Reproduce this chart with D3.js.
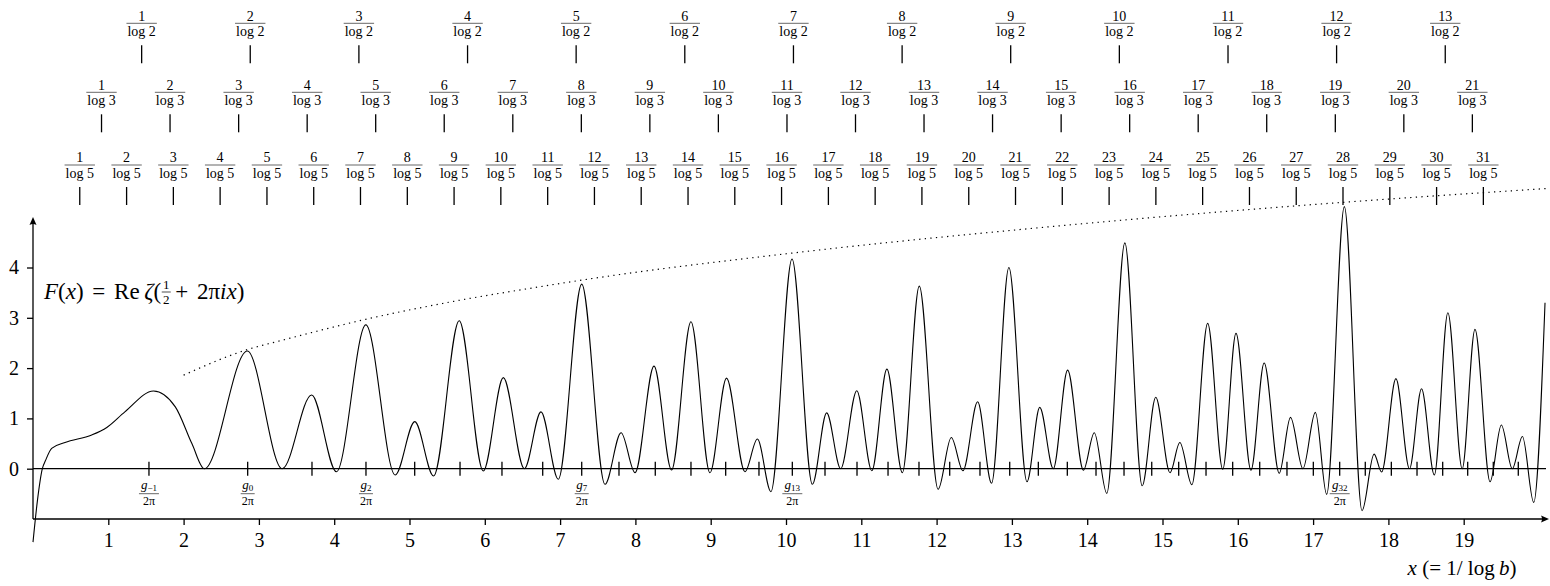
<!DOCTYPE html>
<html>
<head>
<meta charset="utf-8">
<script src="https://cdn.jsdelivr.net/npm/d3@7"></script>
<style>
  body { margin: 0; background: #fff; }
  svg { display: block; font-family: "Liberation Serif", "Times New Roman", serif; }
</style>
</head>
<body>
<div id="chart"></div>
<script>
// values
const fPoints = [
  [0.000, -1.46], [0.060, -0.62], [0.124, 0.00], [0.168, 0.17], [0.248, 0.405], [0.425, 0.52],
  [0.78, 0.67], [0.98, 0.82], [1.22, 1.13], [1.60, 1.545], [1.89, 1.23], [2.11, 0.50], [2.275, 0.00],
  [2.846, 2.34], [3.31, 0.00], [3.70, 1.465], [4.03, -0.06], [4.42, 2.86], [4.81, -0.125],
  [5.07, 0.935], [5.32, -0.145], [5.66, 2.94], [5.98, -0.046], [6.246, 1.81], [6.525, 0.00],
  [6.746, 1.13], [6.976, -0.21], [7.287, 3.67], [7.596, -0.31], [7.81, 0.716], [7.995, -0.08],
  [8.247, 2.04], [8.48, -0.026], [8.738, 2.92], [8.99, -0.08], [9.21, 1.80], [9.455, -0.06],
  [9.62, 0.59], [9.80, -0.457], [10.08, 4.17], [10.35, -0.31], [10.54, 1.11], [10.726, 0.00],
  [10.94, 1.55], [11.14, -0.04], [11.34, 1.98], [11.545, -0.08], [11.77, 3.63], [12.02, -0.41],
  [12.195, 0.62], [12.35, -0.04], [12.545, 1.33], [12.73, -0.29], [12.96, 4.00], [13.20, -0.26],
  [13.37, 1.22], [13.55, 0.00], [13.74, 1.96], [13.95, -0.03], [14.094, 0.716], [14.26, -0.49],
  [14.50, 4.49], [14.73, -0.34], [14.91, 1.42], [15.10, -0.08], [15.23, 0.52], [15.39, -0.32],
  [15.60, 2.89], [15.80, -0.01], [15.976, 2.69], [16.175, -0.03], [16.35, 2.10], [16.55, -0.09],
  [16.70, 1.02], [16.865, 0.00], [17.03, 1.12], [17.18, -0.51], [17.415, 5.21], [17.65, -0.835],
  [17.81, 0.29], [17.91, -0.066], [18.10, 1.79], [18.28, 0.00], [18.44, 1.59], [18.61, -0.125],
  [18.79, 3.10], [18.98, 0.00], [19.15, 2.77], [19.35, -0.26], [19.50, 0.87], [19.645, 0.00],
  [19.78, 0.64], [19.93, -0.67], [20.08, 3.30]
];

// dotted envelope
const boundPoints = [
  [2.0, 1.86], [2.85, 2.37], [3.3, 2.55], [4.42, 2.97], [5.67, 3.35], [6.7, 3.61], [7.29, 3.75],
  [10.1, 4.29], [13.5, 4.81], [16.9, 5.24], [20.1, 5.57]
];

// gram points g_{-1} ... g_39 divided by 2pi
const gramX = [
  1.540, 2.851, 3.705, 4.422, 5.069, 5.671, 6.228, 6.769, 7.287, 7.782, 8.264, 8.738, 9.199,
  9.641, 10.084, 10.518, 10.943, 11.355, 11.766, 12.174, 12.576, 12.971, 13.351, 13.736, 14.117,
  14.489, 14.857, 15.215, 15.578, 15.932, 16.291, 16.653, 17.003, 17.353, 17.693, 18.039, 18.380,
  18.721, 19.053, 19.393, 19.725
];
const gramLabelled = [-1, 0, 2, 7, 13, 32];

// k / log b positions
const log2Ticks = [1.443, 2.885, 4.328, 5.771, 7.213, 8.656, 10.099, 11.542, 12.984, 14.427, 15.870, 17.312, 18.755];
const log3Ticks = [0.910, 1.820, 2.731, 3.641, 4.551, 5.461, 6.372, 7.282, 8.192, 9.102, 10.013,
  10.923, 11.833, 12.743, 13.654, 14.564, 15.474, 16.384, 17.295, 18.205, 19.115];
const log5Ticks = [0.621, 1.243, 1.864, 2.485, 3.107, 3.728, 4.349, 4.971, 5.592, 6.213, 6.835,
  7.456, 8.077, 8.699, 9.320, 9.941, 10.563, 11.184, 11.805, 12.427, 13.048, 13.669, 14.291,
  14.912, 15.533, 16.155, 16.776, 17.397, 18.019, 18.640, 19.261];

const xTicks = d3.range(1, 20);
const yTicks = [0, 1, 2, 3, 4];

const w = 1550;
const h = 586;

const xScale = d3.scaleLinear().domain([0, 20]).range([33, 1539]);
const yScale = d3.scaleLinear().domain([-1, 5]).range([519, 217.2]);

const svg = d3.select("#chart")
  .append("svg")
  .attr("width", w)
  .attr("height", h);

// top rows of k/log b ticks
const rows = [
  { ticks: log2Ticks, base: "2", bar: 23.3 },
  { ticks: log3Ticks, base: "3", bar: 92.3 },
  { ticks: log5Ticks, base: "5", bar: 165 }
];

rows.forEach(row => {
  const cell = svg.append("g")
    .selectAll("g")
    .data(row.ticks)
    .enter()
    .append("g")
    .attr("transform", d => `translate(${xScale(d)},${row.bar})`);

  cell.append("text")
    .attr("y", -2.7)
    .attr("text-anchor", "middle")
    .style("font-size", "14px")
    .text((d, i) => i + 1);

  cell.append("text")
    .attr("y", 12.6)
    .attr("text-anchor", "middle")
    .style("font-size", "14px")
    .text("log " + row.base);

  cell.append("line")
    .attr("x1", function() { return -this.parentNode.querySelectorAll("text")[1].getComputedTextLength() / 2 - 1; })
    .attr("x2", function() { return this.parentNode.querySelectorAll("text")[1].getComputedTextLength() / 2 + 1; })
    .attr("stroke", "#000")
    .attr("stroke-width", 0.6);

  cell.append("line")
    .attr("y1", 22)
    .attr("y2", 40)
    .attr("stroke", "#000")
    .attr("stroke-width", 1.3);
});

// zero line with gram ticks
const y0 = yScale(0);
svg.append("line")
  .attr("x1", xScale(0))
  .attr("x2", 1546)
  .attr("y1", y0)
  .attr("y2", y0)
  .attr("stroke", "#000")
  .attr("stroke-width", 1.3);

svg.append("g")
  .selectAll("line")
  .data(gramX)
  .enter()
  .append("line")
  .attr("x1", d => xScale(d))
  .attr("x2", d => xScale(d))
  .attr("y1", y0 - 7)
  .attr("y2", y0 + 7)
  .attr("stroke", "#000")
  .attr("stroke-width", 1.3);

const gl = svg.append("g")
  .selectAll("g")
  .data(gramLabelled)
  .enter()
  .append("g")
  .attr("transform", d => `translate(${xScale(gramX[d + 1])},${y0 + 25})`);

const num = gl.append("text")
  .attr("y", -5)
  .attr("text-anchor", "middle")
  .style("font-size", "13px");
num.append("tspan").style("font-style", "italic").text("g");
num.append("tspan")
  .attr("dy", 2.5)
  .style("font-size", "9px")
  .text(d => d < 0 ? "\u2212" + (-d) : d);

gl.append("line")
  .attr("x1", d => d < 0 || d > 9 ? -10 : -7)
  .attr("x2", d => d < 0 || d > 9 ? 10 : 7)
  .attr("stroke", "#000")
  .attr("stroke-width", 0.6);

gl.append("text")
  .attr("y", 11)
  .attr("text-anchor", "middle")
  .style("font-size", "12px")
  .text("2\u03c0");

// dotted envelope
svg.append("path")
  .datum(boundPoints)
  .attr("fill", "none")
  .attr("stroke", "#000")
  .attr("stroke-width", 1.2)
  .attr("stroke-dasharray", "1.3,4.3")
  .attr("d", d3.line()
    .x(d => xScale(d[0]))
    .y(d => yScale(d[1]))
    .curve(d3.curveMonotoneX));

// F(x)
svg.append("path")
  .datum(fPoints)
  .attr("fill", "none")
  .attr("stroke", "#000")
  .attr("stroke-width", 1.1)
  .attr("d", d3.line()
    .x(d => xScale(d[0]))
    .y(d => yScale(d[1]))
    .curve(d3.curveMonotoneX));

// axes
const xAxis = d3.axisBottom(xScale)
  .tickValues(xTicks)
  .tickSize(6)
  .tickSizeOuter(0)
  .tickFormat(d3.format("d"));

const gx = svg.append("g")
  .attr("transform", "translate(0,519)")
  .call(xAxis);
gx.select(".domain").remove();
gx.attr("font-family", null).attr("font-size", 20);
gx.selectAll(".tick line").attr("stroke-width", 1.3);
gx.selectAll(".tick text").attr("y", 28).attr("dy", null);

const yAxis = d3.axisLeft(yScale)
  .tickValues(yTicks)
  .tickSize(6)
  .tickPadding(8)
  .tickSizeOuter(0)
  .tickFormat(d3.format("d"));

const gy = svg.append("g")
  .attr("transform", "translate(33,0)")
  .call(yAxis);
gy.select(".domain").remove();
gy.attr("font-family", null).attr("font-size", 20);
gy.selectAll(".tick line").attr("stroke-width", 1.3);

svg.append("line")
  .attr("x1", 33).attr("x2", 1544)
  .attr("y1", 519).attr("y2", 519)
  .attr("stroke", "#000").attr("stroke-width", 1.3);
svg.append("path")
  .attr("d", "M1549,519 L1541,515.5 Q1543,519 1541,522.5 Z")
  .attr("fill", "#000");

svg.append("line")
  .attr("x1", 33).attr("x2", 33)
  .attr("y1", 519).attr("y2", 222)
  .attr("stroke", "#000").attr("stroke-width", 1.3);
svg.append("path")
  .attr("d", "M33,217 L29.5,225 Q33,223 36.5,225 Z")
  .attr("fill", "#000");

// formula label
const f1 = svg.append("text")
  .attr("x", 44)
  .attr("y", 299)
  .style("font-size", "23px")
  .style("word-spacing", "3px");
f1.append("tspan").style("font-style", "italic").text("F");
f1.append("tspan").text("(");
f1.append("tspan").style("font-style", "italic").text("x");
f1.append("tspan").text(") = Re\u2009");
f1.append("tspan").style("font-style", "italic").text("\u03b6");
f1.append("tspan").text("(");
const fx = 44 + f1.node().getComputedTextLength() + 5;

svg.append("text")
  .attr("x", fx).attr("y", 288.5)
  .attr("text-anchor", "middle")
  .style("font-size", "13px")
  .text("1");
svg.append("line")
  .attr("x1", fx - 4.5).attr("x2", fx + 4.5)
  .attr("y1", 292).attr("y2", 292)
  .attr("stroke", "#000").attr("stroke-width", 0.7);
svg.append("text")
  .attr("x", fx).attr("y", 303.5)
  .attr("text-anchor", "middle")
  .style("font-size", "13px")
  .text("2");

const f2 = svg.append("text")
  .attr("x", fx + 9)
  .attr("y", 299)
  .style("font-size", "23px")
  .style("word-spacing", "3px");
f2.append("tspan").text("+ 2\u03c0");
f2.append("tspan").style("font-style", "italic").text("ix");
f2.append("tspan").text(")");

// x label
const xl = svg.append("text")
  .attr("x", 1462)
  .attr("y", 575)
  .attr("text-anchor", "middle")
  .style("font-size", "21px");
xl.append("tspan").style("font-style", "italic").text("x");
xl.append("tspan").text(" (= 1/ log\u2009");
xl.append("tspan").style("font-style", "italic").text("b");
xl.append("tspan").text(")");
</script>
</body>
</html>
